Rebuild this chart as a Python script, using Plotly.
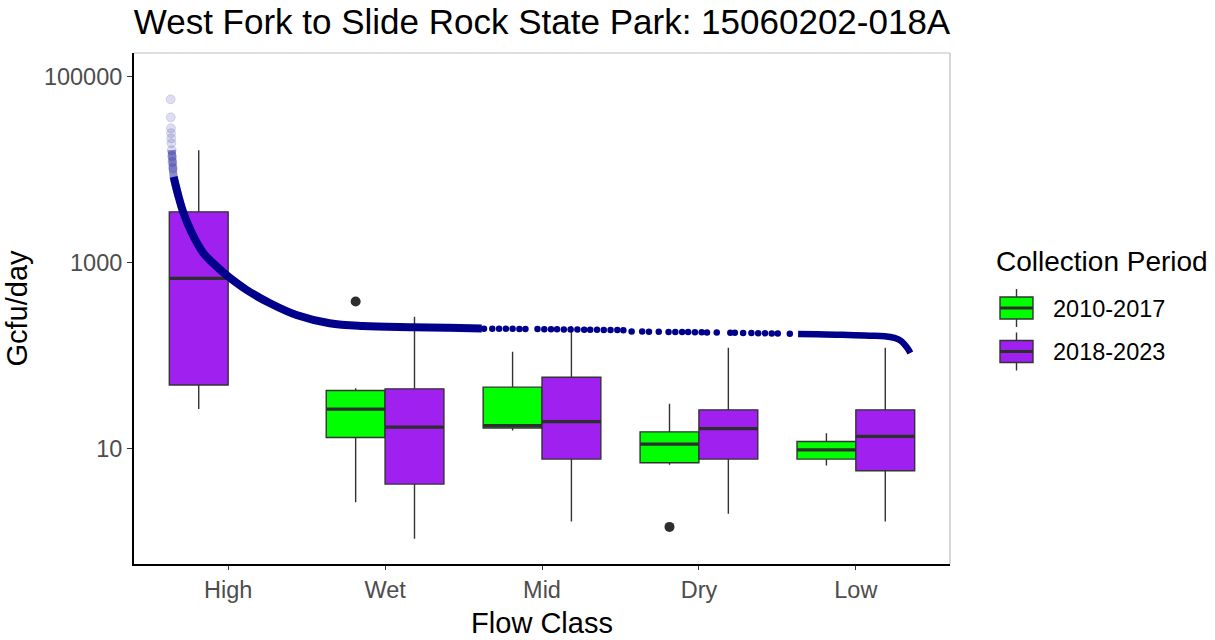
import plotly.graph_objects as go

# ---- data -------------------------------------------------------------
flow_classes = ["High", "Wet", "Mid", "Dry", "Low"]
periods = ["2010-2017", "2018-2023"]
period_colors = ["#00FF00", "#A020F0"]

# box statistics per flow class (Gcfu/day); None = no samples in that class
p1_q1 = [None, 13.2, 16.7, 7.08, 7.75]
p1_median = [None, 26.7, 17.7, 11.2, 9.75]
p1_q3 = [None, 42.2, 45.9, 15.2, 12.0]
p1_low = [None, 2.66, 15.7, 6.73, 6.62]
p1_high = [None, 44.8, 110, 30.4, 14.7]

p2_q1 = [48.5, 4.18, 7.75, 7.75, 5.81]
p2_median = [676, 17.1, 19.6, 16.5, 13.6]
p2_q3 = [3500, 44.0, 58.7, 26.2, 26.2]
p2_low = [26.8, 1.08, 1.66, 2.01, 1.66]
p2_high = [16070, 262, 208, 122, 122]

# outlying samples
outlier_class = ["Wet", "Dry"]
outlier_period = ["2010-2017", "2010-2017"]
outlier_value = [381, 1.45]

# load duration curve: flow exceedance (%) vs Gcfu/day
fdc_head_pct = [0.70, 0.72, 0.74, 0.76, 0.78, 0.80, 0.84, 0.88, 0.93, 1.00]
fdc_head_load = [56600, 36300, 27700, 24500, 21600, 19100, 16100, 13900, 12000, 10300]

fdc_band_pct = [0.84, 0.95, 1.10, 1.76, 2.42, 3.53, 5.07, 6.84, 8.37, 10.8,
                13.9, 17.4, 21.8, 26.2, 32.8, 37.7, 42.0]
fdc_band_load = [16100, 12000, 8320, 5080, 3370, 2060, 1256, 902, 705, 507,
                 365, 273, 223, 208, 202, 199, 196]

fdc_dot_pct = [42.3, 43.4, 44.3, 45.2, 46.1, 47.0, 47.8, 49.4, 50.3, 51.2, 52.0,
               52.9, 53.8, 54.7, 55.6, 56.4, 57.3, 58.2, 59.1, 60.0, 60.8,
               61.9, 63.3, 64.2, 65.5, 66.8, 67.7, 68.6, 69.4, 70.3, 71.2, 71.9,
               73.2, 75.0, 75.6, 76.7, 77.8, 78.7, 79.6, 80.5, 81.3, 82.9]
fdc_dot_load = [195, 195, 194, 194, 194, 193, 193, 193, 192, 192, 192,
                191, 191, 191, 190, 190, 190, 189, 189, 189, 188,
                182, 182, 181, 181, 180, 180, 179, 179, 178, 178, 177,
                177, 176, 176, 175, 175, 174, 174, 173, 173, 172]

fdc_tail_pct = [84.0, 86.5, 89.0, 91.5, 93.5, 95.5, 96.8, 97.6, 98.2, 98.6, 98.9]
fdc_tail_load = [171, 170, 168, 166, 164, 162, 155, 145, 130, 118, 107]

# ---- layout constants -------------------------------------------------
W, H = 1215, 640
PLOT_L, PLOT_R, PLOT_T, PLOT_B = 134, 950, 53, 564
FONT = "Liberation Sans, Arial, sans-serif"
BOX_LINE = "#333333"
CURVE = "#00008B"
DODGE = 0.75
NAVY_FAINT = "rgba(0,0,139,0.13)"


def px_x(X):
    return (X - PLOT_L) / (PLOT_R - PLOT_L)


def px_y(Y):
    return (PLOT_B - Y) / (PLOT_B - PLOT_T)


stats = {
    periods[0]: dict(q1=p1_q1, median=p1_median, q3=p1_q3, low=p1_low, high=p1_high),
    periods[1]: dict(q1=p2_q1, median=p2_median, q3=p2_q3, low=p2_low, high=p2_high),
}

# dodge positions: boxes present in a class fill slots from the left
slot_w = DODGE / len(periods)
positions = {}
for ci, cls in enumerate(flow_classes):
    k = 0
    for per in periods:
        if stats[per]["median"][ci] is not None:
            positions[(cls, per)] = ci + 1 - DODGE / 2 + slot_w * (k + 0.5)
            k += 1

fig = go.Figure()

for per, col in zip(periods, period_colors):
    s = stats[per]
    idx = [i for i, m in enumerate(s["median"]) if m is not None]
    xs = [positions[(flow_classes[i], per)] for i in idx]
    fig.add_trace(go.Box(
        x=xs,
        q1=[s["q1"][i] for i in idx],
        median=[s["median"][i] for i in idx],
        q3=[s["q3"][i] for i in idx],
        lowerfence=[s["low"][i] for i in idx],
        upperfence=[s["high"][i] for i in idx],
        width=slot_w,
        whiskerwidth=0,
        fillcolor=col,
        line=dict(color=BOX_LINE, width=1.4),
        boxpoints=False,
        name=per,
        showlegend=False,
        hoverinfo="skip",
    ))
    # thicker median bar
    mx, my = [], []
    for x, i in zip(xs, idx):
        mx += [x - slot_w / 2, x + slot_w / 2, None]
        my += [s["median"][i], s["median"][i], None]
    fig.add_trace(go.Scatter(x=mx, y=my, mode="lines",
                             line=dict(color="#2e2e2e", width=3.2),
                             showlegend=False, hoverinfo="skip"))

# outliers
fig.add_trace(go.Scatter(
    x=[positions[(c, p)] for c, p in zip(outlier_class, outlier_period)],
    y=outlier_value, mode="markers",
    marker=dict(color="#2e2e2e", size=10),
    showlegend=False, hoverinfo="skip"))

# load duration curve on an overlaid exceedance axis
fig.add_trace(go.Scatter(x=fdc_head_pct, y=fdc_head_load, xaxis="x2", mode="markers",
                         marker=dict(color=NAVY_FAINT, size=9,
                                     line=dict(color="rgba(0,0,139,0.12)", width=1)),
                         showlegend=False, hoverinfo="skip"))
faint = [(p, v) for p, v in zip(fdc_band_pct, fdc_band_load) if v >= 5000]
fig.add_trace(go.Scatter(x=[p for p, _ in faint], y=[v for _, v in faint], xaxis="x2",
                         mode="lines", line=dict(color="rgba(0,0,139,0.45)", width=8,
                                                 shape="spline"),
                         showlegend=False, hoverinfo="skip"))
solid = [(p, v) for p, v in zip(fdc_band_pct, fdc_band_load) if v <= 8400]
fig.add_trace(go.Scatter(x=[p for p, _ in solid], y=[v for _, v in solid], xaxis="x2",
                         mode="lines", line=dict(color=CURVE, width=8, shape="spline"),
                         showlegend=False, hoverinfo="skip"))
fig.add_trace(go.Scatter(x=fdc_dot_pct, y=fdc_dot_load, xaxis="x2", mode="markers",
                         marker=dict(color=CURVE, size=6.5),
                         showlegend=False, hoverinfo="skip"))
fig.add_trace(go.Scatter(x=fdc_tail_pct, y=fdc_tail_load, xaxis="x2", mode="lines",
                         line=dict(color=CURVE, width=6.5, shape="spline"),
                         showlegend=False, hoverinfo="skip"))

# ---- legend drawn beside the panel -----------------------------------
shapes = [
    # light panel border on top and right
    dict(type="line", xref="paper", yref="paper", x0=0, x1=1, y0=1, y1=1,
         line=dict(color="#BDBDBD", width=1.2)),
    dict(type="line", xref="paper", yref="paper", x0=1, x1=1, y0=0, y1=1,
         line=dict(color="#BDBDBD", width=1.2)),
]
annotations = [
    dict(text="Collection Period", xref="paper", yref="paper",
         x=px_x(994), y=px_y(261), xanchor="left", yanchor="middle",
         showarrow=False, font=dict(family=FONT, size=28, color="black")),
]
key_x0, key_x1 = 1000, 1033
for i, (per, col) in enumerate(zip(periods, period_colors)):
    cy = 308 + 43.5 * i
    xm = (key_x0 + key_x1) / 2
    shapes.append(dict(type="line", xref="paper", yref="paper",
                       x0=px_x(xm), x1=px_x(xm), y0=px_y(cy - 19), y1=px_y(cy + 19),
                       line=dict(color=BOX_LINE, width=1.4)))
    shapes.append(dict(type="rect", xref="paper", yref="paper",
                       x0=px_x(key_x0), x1=px_x(key_x1),
                       y0=px_y(cy - 11), y1=px_y(cy + 11),
                       fillcolor=col, line=dict(color=BOX_LINE, width=1.4)))
    shapes.append(dict(type="line", xref="paper", yref="paper",
                       x0=px_x(key_x0), x1=px_x(key_x1), y0=px_y(cy), y1=px_y(cy),
                       line=dict(color="#2e2e2e", width=3)))
    annotations.append(dict(text=per, xref="paper", yref="paper",
                            x=px_x(1051), y=px_y(cy + 0.5), xanchor="left",
                            yanchor="middle", showarrow=False,
                            font=dict(family=FONT, size=23.5, color="black")))

fig.update_layout(
    width=W, height=H,
    margin=dict(l=PLOT_L, r=W - PLOT_R, t=PLOT_T, b=H - PLOT_B),
    paper_bgcolor="white", plot_bgcolor="white",
    boxmode="overlay",
    font=dict(family=FONT, color="black"),
    title=dict(text="West Fork to Slide Rock State Park: 15060202-018A",
               x=0.5, xref="paper", xanchor="center",
               y=1 - 22 / H, yref="container", yanchor="middle",
               font=dict(family=FONT, size=35, color="black")),
    xaxis=dict(range=[0.4, 5.6], tickmode="array", automargin=False,
               tickvals=list(range(1, len(flow_classes) + 1)), ticktext=flow_classes,
               ticks="outside", ticklen=4, tickwidth=1.2, tickcolor="#333333",
               showline=True, linecolor="black", linewidth=2,
               showgrid=False, zeroline=False,
               tickfont=dict(family=FONT, size=23.5, color="#4D4D4D"),
               title=dict(text="Flow Class", standoff=10,
                          font=dict(family=FONT, size=29, color="black"))),
    xaxis2=dict(range=[-100 * 0.2 / 4.8, 100 * 5.0 / 4.8], overlaying="x",
                visible=False, showgrid=False, zeroline=False),
    yaxis=dict(type="log", range=[-0.237, 5.25], tickmode="array", automargin=False,
               tickvals=[10, 1000, 100000], ticktext=["10", "1000", "100000"],
               ticks="outside", ticklen=5, tickwidth=1.2, tickcolor="#333333",
               showline=True, linecolor="black", linewidth=2,
               showgrid=False, zeroline=False,
               tickfont=dict(family=FONT, size=23.5, color="#4D4D4D"),
               title=dict(text="Gcfu/day", standoff=8,
                          font=dict(family=FONT, size=29, color="black"))),
    shapes=shapes,
    annotations=annotations,
    showlegend=False,
)

fig.write_html("out.html")
